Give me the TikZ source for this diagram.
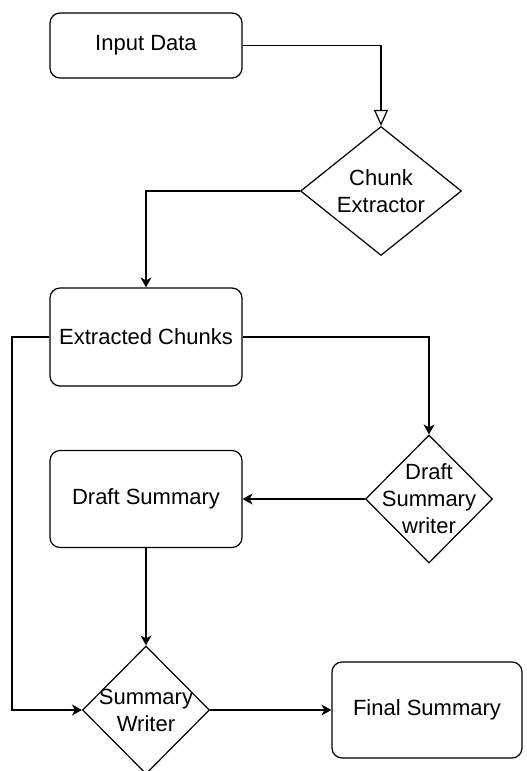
\documentclass[tikz,border=0pt]{standalone}
\usepackage{fontspec}
\setmainfont{Liberation Sans}
\usetikzlibrary{shapes.geometric,arrows.meta}
\begin{document}
\begin{tikzpicture}[x=1pt,y=-1pt,
  line width=1.2pt,
  font=\fontsize{22}{27}\selectfont,
  box/.style={draw, rounded corners=10pt, inner sep=0pt, align=center},
  decision/.style={draw, diamond, inner sep=0pt},
  dtext/.style={align=center, inner sep=0pt},
  flow/.style={-{Stealth[length=10pt,width=11pt,inset=3pt]}},
  openflow/.style={-{Triangle[open,length=16pt,width=14pt,fill=white]}}
]
\useasboundingbox (0,0) rectangle (527,771);

% process boxes
\node[box, minimum width=192pt, minimum height=65pt] (input) at (146,45.5) {Input Data};
\node[box, minimum width=192pt, minimum height=98pt] (chunks) at (146,337) {Extracted Chunks};
\node[box, minimum width=192pt, minimum height=97pt] (draft) at (146,499) {Draft Summary};
\node[box, minimum width=190pt, minimum height=96pt] (final) at (427,710) {Final Summary};

% decision diamonds, labels centred on them
\node[decision, minimum width=161pt, minimum height=129pt,
      label={[dtext]center:Chunk\\Extractor}] (extractor) at (381,191) {};
\node[decision, minimum width=127pt, minimum height=128pt,
      label={[dtext]center:Draft\\Summary\\writer}] (draftwriter) at (429,499) {};
\node[decision, minimum width=127pt, minimum height=128pt,
      label={[dtext]center:Summary\\Writer}] (writer) at (146,710) {};

% connectors
\draw[openflow] (input.east) -| (extractor.north);
\draw[flow] (extractor.west) -| (chunks.north);
\draw[flow] (chunks.east) -| (draftwriter.north);
\draw[flow] (draftwriter.west) -- (draft.east);
\draw[flow] (draft.south) -- (writer.north);
\coordinate (bypass) at (12,337);
\draw[flow] (chunks.west) -- (bypass) |- (writer.west);
\draw[flow] (writer.east) -- (final.west);
\end{tikzpicture}
\end{document}
